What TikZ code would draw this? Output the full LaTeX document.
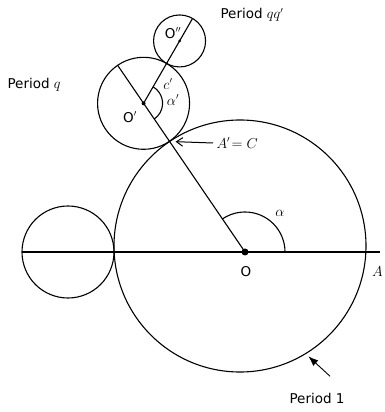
\documentclass[tikz,border=0pt]{standalone}
\usepackage{fontspec}
\setsansfont{DejaVu Sans}
\usetikzlibrary{arrows.meta}

\begin{document}
\begin{tikzpicture}[
  x=1pt, y=1pt,
  font=\sffamily\fontsize{13.5}{16}\selectfont,
  curve/.style={line width=1.1pt},
  spot/.style={circle, fill, inner sep=0pt, minimum size=#1},
  pointer/.style={-{Latex[length=3.5mm, width=2.6mm]}, line width=0.9pt},
  barb/.style={-{Straight Barb[length=2.2mm, width=3mm]}, line width=1pt},
]
\useasboundingbox (-245,-160) rectangle (139,252);

\coordinate (O) at (0,0);
\coordinate (M) at (-5,6);
\coordinate (L) at (-177,0);
\coordinate (Lend) at (-223,0);
\coordinate (Aend) at (135,0);
\coordinate (C) at (124.3:133.8);
\coordinate (Oq) at (124.3:180);
\coordinate (Qend) at (124.3:226);
\coordinate (Cq) at ([shift={(60:46)}]Oq);
\coordinate (Oqq) at ([shift={(60:72)}]Oq);
\coordinate (QQend) at ([shift={(60:98)}]Oq);
\coordinate (P1) at ([shift={(-58.7:126)}]M);

\draw[curve] (M) circle[radius=126];
\draw[curve] (L) circle[radius=46];
\draw[curve] (Oq) circle[radius=46];
\draw[curve] (Oqq) circle[radius=26];

\draw[curve] (Lend) -- (Aend);
\draw[curve] (O) -- (Qend);
\draw[curve] (Oq) -- (QQend);

\draw[curve] (40,0) arc[start angle=0, end angle=124.3, radius=40];
\draw[curve] ([shift={(60:19)}]Oq) arc[start angle=60, end angle=-55.7, radius=19];

\node[spot=7pt] (dotO) at (O) {};
\node[spot=4pt] (dotOq) at (Oq) {};
\node[spot=3pt] (dotOqq) at (Oqq) {};

\node (labO) at (1,-20) {O};
\node[anchor=east, inner sep=1pt] (labA) at (139,-20) {$A$};
\node (labalpha) at (35,39) {$\alpha$};
\node (labOq) at (-115,135) {O$'$};
\node (labalphaq) at (-72,152) {$\alpha'$};
\node (labcq) at (-77,168) {$c'$};
\node (labOqq) at (-72,219) {O$''$};
\node[anchor=west] (perqq) at (-28,237) {Period $qq'$};
\node[anchor=west] (perq) at (-241,167) {Period $q$};
\node[anchor=west] (labAC) at (-32,109) {$A'\!=C$};
\node[anchor=west] (per1) at (41,-146) {Period 1};

\draw[barb, shorten >=6pt] (labAC.west) -- (C);
\draw[pointer, shorten >=4pt] ([shift={(-18,13)}]per1.north east) -- (P1);
\end{tikzpicture}
\end{document}
